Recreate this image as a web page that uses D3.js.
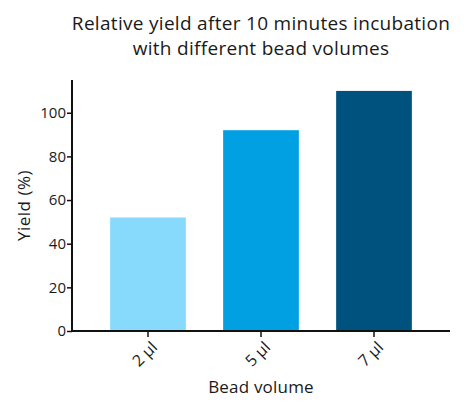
<!DOCTYPE html>
<html>
<head>
<meta charset="utf-8">
<script src="https://cdn.jsdelivr.net/npm/d3@7"></script>
<style>
  body { margin: 0; background: #fff; }
  text { font-family: "Open Sans", sans-serif; fill: #1a1a1a; }
</style>
</head>
<body>
<div id="chart"></div>
<script>
var categories = ["2 µl", "5 µl", "7 µl"];
var yields = [52, 92, 110];
var barColors = ["#87dafc", "#00a0e2", "#00527e"];
var yTicks = [0, 20, 40, 60, 80, 100];
var titleLines = ["Relative yield after 10 minutes incubation", "with different bead volumes"];

var W = 465, H = 411;
var x0 = 72, x1 = 450, yBottom = 331, yTop = 80;

var svg = d3.select("#chart").append("svg")
  .attr("width", W)
  .attr("height", H);

var x = d3.scaleBand()
  .domain(categories)
  .range([91.5, 430.5])
  .paddingInner(0.33)
  .paddingOuter(0.165);

var y = d3.scaleLinear()
  .domain([0, 115])
  .range([yBottom, yTop]);

// bars
svg.append("g").selectAll("rect")
  .data(yields)
  .enter().append("rect")
  .attr("x", function(d, i) { return x(categories[i]); })
  .attr("y", function(d) { return y(d); })
  .attr("width", x.bandwidth())
  .attr("height", function(d) { return y(0) - y(d); })
  .attr("fill", function(d, i) { return barColors[i]; });

// y axis
var yAxis = d3.axisLeft(y).tickValues(yTicks).tickSize(5).tickPadding(1);
var gy = svg.append("g")
  .attr("transform", "translate(" + x0 + ",0)")
  .call(yAxis);
gy.select(".domain").remove();
gy.append("line")
  .attr("x1", 0).attr("x2", 0)
  .attr("y1", yTop).attr("y2", yBottom + 1)
  .attr("stroke", "#111").attr("stroke-width", 2);
gy.selectAll(".tick line").attr("stroke", "#111").attr("stroke-width", 1.5);
gy.selectAll(".tick text").style("font-size", "15px").attr("fill", "#1a1a1a");

// x axis
var xAxis = d3.axisBottom(x).tickSize(6).tickPadding(3);
var gx = svg.append("g")
  .attr("transform", "translate(0," + yBottom + ")")
  .call(xAxis);
gx.select(".domain").remove();
gx.append("line")
  .attr("x1", x0 - 1).attr("x2", x1)
  .attr("y1", 0).attr("y2", 0)
  .attr("stroke", "#111").attr("stroke-width", 2);
gx.selectAll(".tick line").attr("stroke", "#111").attr("stroke-width", 1.5);
gx.selectAll(".tick text")
  .style("font-size", "16px")
  .attr("fill", "#1a1a1a")
  .attr("text-anchor", "end")
  .attr("dx", "0")
  .attr("dy", "0.35em")
  .attr("transform", "translate(0,7) rotate(-45)");

// axis titles
svg.append("text")
  .attr("transform", "translate(30," + ((yTop + yBottom) / 2) + ") rotate(-90)")
  .attr("text-anchor", "middle")
  .style("font-size", "17px")
  .style("letter-spacing", "0.5px")
  .text("Yield (%)");

svg.append("text")
  .attr("x", 261)
  .attr("y", 393)
  .attr("text-anchor", "middle")
  .style("font-size", "17px")
  .style("letter-spacing", "0.2px")
  .text("Bead volume");

// title
svg.append("g").selectAll("text")
  .data(titleLines)
  .enter().append("text")
  .attr("x", 261)
  .attr("y", function(d, i) { return 30 + i * 25; })
  .attr("text-anchor", "middle")
  .style("font-size", "19px")
  .style("letter-spacing", "0.3px")
  .text(function(d) { return d; });
</script>
</body>
</html>
